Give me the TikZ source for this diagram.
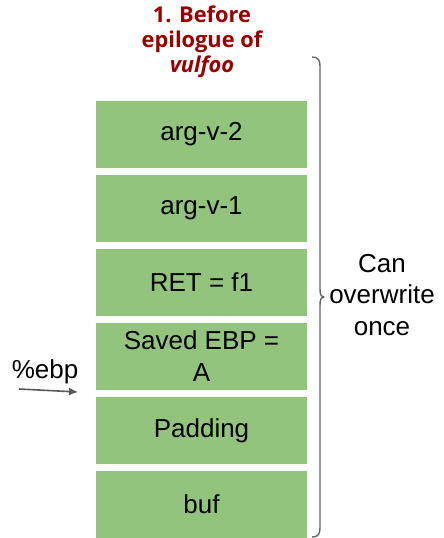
\documentclass[tikz,border=0pt]{standalone}
\usepackage{fontspec}
\usetikzlibrary{arrows.meta}
\setmainfont{Liberation Sans}
\newfontfamily\titlefont{Open Sans}
\definecolor{boxgreen}{HTML}{93C47D}
\definecolor{titlered}{HTML}{990000}
\definecolor{bracegray}{HTML}{666666}
\definecolor{arrowgray}{HTML}{595959}
\begin{document}
\begin{tikzpicture}[x=1pt,y=1pt,
  slot/.style={fill=boxgreen, draw=none, minimum width=211pt, minimum height=67pt,
    inner sep=0pt, align=center, font=\fontsize{26}{32}\selectfont},
  lbl/.style={align=center, inner sep=0pt, font=\fontsize{26}{31.5}\selectfont},
  ttl/.style={align=center, inner sep=0pt, text=titlered, font=\titlefont\bfseries\fontsize{21.8}{25}\selectfont}]
\useasboundingbox (0,0) rectangle (444,-538);
\node[slot] (s1) at (201.5,-134) {arg-v-2};
\node[slot] (s2) at (201.5,-208) {arg-v-1};
\node[slot] (s3) at (201.5,-282) {RET = f1};
\node[slot] (s4) at (201.5,-356.5) {Saved EBP =\\A};
\node[slot] (s5) at (201.5,-430.5) {Padding};
\node[slot] (s6) at (201.5,-504.5) {buf};
\node[ttl] (title) at (202,-42) {1. Before\\epilogue of\\\itshape vulfoo};
\node[lbl] (ebp) at (45,-372) {\%ebp};
\coordinate (ebpa) at (19,-389);
\coordinate (ebpb) at (78,-392);
\draw[-{Latex[length=9pt,width=8pt]}, draw=arrowgray, fill=arrowgray, line width=1.6pt] (ebpa) -- (ebpb);
\coordinate (btop) at (312,-57);
\coordinate (bbot) at (312,-537);
\coordinate (btip) at (324,-297);
\draw[bracegray, line width=1.4pt, line join=round]
  (btop) .. controls (318,-57) and (320,-60) .. (320,-66)
  -- (320,-289) .. controls (320,-294) and (321,-297) .. (btip)
  .. controls (321,-297) and (320,-300) .. (320,-305)
  -- (320,-528) .. controls (320,-534) and (318,-537) .. (bbot);
\node[lbl] (over) at (382,-295) {Can\\overwrite\\once};
\end{tikzpicture}
\end{document}
